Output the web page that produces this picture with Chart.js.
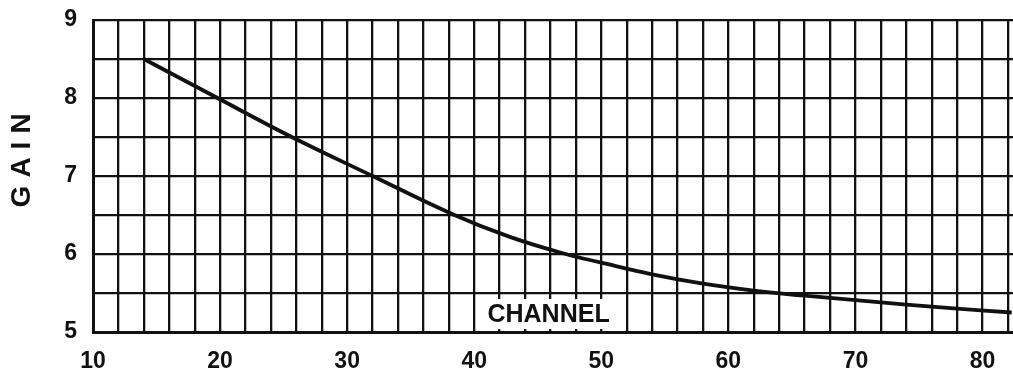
<!DOCTYPE html>
<html>
<head>
<meta charset="utf-8">
<script src="https://cdn.jsdelivr.net/npm/chart.js@4/dist/chart.umd.min.js"></script>
<style>
  html, body { margin: 0; padding: 0; background: #fff; overflow: hidden; }
  #wrap { width: 1013px; height: 376px; }
</style>
</head>
<body>
<div id="wrap"><canvas id="chart"></canvas></div>
<script>
const channels = [14, 19.8, 25.4, 32, 38.3, 42.8, 47.2, 50, 54, 58, 62, 66, 70, 74, 78, 82.3];
const gain = [8.5, 8.0, 7.52, 7.0, 6.51, 6.22, 6.0, 5.89, 5.74, 5.62, 5.53, 5.465, 5.41, 5.35, 5.30, 5.25];

const xLabels = [10, 20, 30, 40, 50, 60, 70, 80];
const yLabels = [5, 6, 7, 8, 9];

const xTitle = 'CHANNEL';
const yTitle = 'GAIN';

const ink = '#111';
const fontFamily = '"Liberation Sans", Arial, sans-serif';

// axis titles drawn by hand so letter spacing and the white box can be matched
const axisTitles = {
  id: 'axisTitles',
  afterDraw(chart) {
    const { ctx, scales } = chart;
    ctx.save();
    ctx.fillStyle = ink;
    ctx.textAlign = 'center';
    ctx.textBaseline = 'middle';

    // CHANNEL, sitting inside the plot on a white patch
    ctx.font = 'bold 25px ' + fontFamily;
    const cx = scales.x.getPixelForValue(45.85);
    const cy = scales.y.getPixelForValue(5.23);
    const w = ctx.measureText(xTitle).width + 22;
    ctx.fillStyle = '#fff';
    ctx.fillRect(cx - w / 2, cy - 15, w, 30);
    ctx.fillStyle = ink;
    ctx.fillText(xTitle, cx, cy + 1);

    // GAIN, rotated on the left
    ctx.font = 'bold 28px ' + fontFamily;
    ctx.letterSpacing = '8px';
    const gy = scales.y.getPixelForValue(7.2);
    ctx.translate(22, gy);
    ctx.rotate(-Math.PI / 2);
    ctx.fillText(yTitle, 4, 0);
    ctx.restore();
  }
};

// keep the plot box fixed, labels may hang over the edges
const noPad = s => { s.paddingTop = 0; s.paddingRight = 0; s.paddingBottom = 0; s.paddingLeft = 0; };

new Chart(document.getElementById('chart'), {
  type: 'line',
  data: {
    datasets: [{
      data: channels.map((c, i) => ({ x: c, y: gain[i] })),
      borderColor: ink,
      borderWidth: 3.8,
      pointRadius: 0,
      tension: 0.4,
      fill: false
    }]
  },
  options: {
    responsive: true,
    maintainAspectRatio: false,
    animation: false,
    layout: { padding: { top: 20, right: 0, bottom: 0, left: 0 } },
    plugins: { legend: { display: false }, tooltip: { enabled: false } },
    scales: {
      x: {
        type: 'linear',
        min: 10,
        max: 82.4,
        grid: { color: ink, lineWidth: 2.3, drawTicks: false },
        border: { color: ink, width: 3 },
        afterFit: s => { s.height = 44; noPad(s); },
        ticks: {
          stepSize: 2,
          includeBounds: false,
          autoSkip: false,
          maxRotation: 0,
          padding: 16,
          color: ink,
          font: { family: fontFamily, size: 23, weight: 'bold' },
          callback: v => xLabels.includes(v) ? String(v) : ''
        }
      },
      y: {
        min: 5,
        max: 9,
        grid: { color: ink, lineWidth: 2.3, drawTicks: false },
        border: { color: ink, width: 3 },
        afterFit: s => { s.width = 93; noPad(s); },
        ticks: {
          stepSize: 0.5,
          padding: 16,
          color: ink,
          font: { family: fontFamily, size: 23, weight: 'bold' },
          callback: v => yLabels.includes(v) ? String(v) : ''
        }
      }
    }
  },
  plugins: [axisTitles]
});
</script>
</body>
</html>
